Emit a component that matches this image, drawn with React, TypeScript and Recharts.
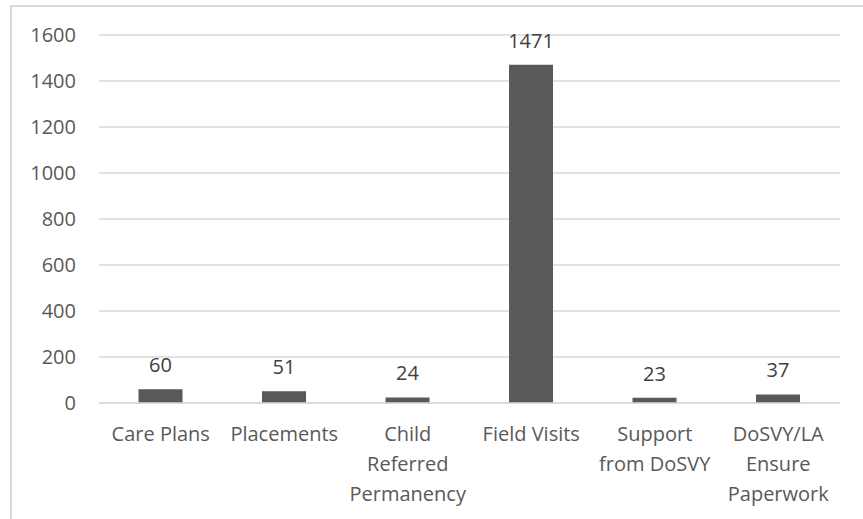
import React from "react";
import { BarChart, Bar, XAxis, YAxis, CartesianGrid, LabelList } from "recharts";

const categories = [
  "Care Plans",
  "Placements",
  "Child Referred Permanency",
  "Field Visits",
  "Support from DoSVY",
  "DoSVY/LA Ensure Paperwork",
];
// how each category label wraps under the axis
const categoryLines = [
  ["Care Plans"],
  ["Placements"],
  ["Child", "Referred", "Permanency"],
  ["Field Visits"],
  ["Support", "from DoSVY"],
  ["DoSVY/LA", "Ensure", "Paperwork"],
];
const counts = [60, 51, 24, 1471, 23, 37];
const yTicks = [0, 200, 400, 600, 800, 1000, 1200, 1400, 1600];

const data = categories.map((name, i) => ({ name, value: counts[i] }));

const FONT = "'Open Sans', sans-serif";
const TEXT = "#595959";

function CategoryTick({ x, payload, index }: { x?: number; payload?: { value: string }; index?: number }) {
  const i = index ?? categories.indexOf(payload?.value ?? "");
  const lines = categoryLines[i] ?? [];
  // first baseline sits 38px under the zero line
  return (
    <text x={x} y={441} textAnchor="middle" fill={TEXT} fontSize={20} fontFamily={FONT}>
      {lines.map((l, k) => (
        <tspan key={k} x={x} dy={k === 0 ? 0 : 30}>
          {l}
        </tspan>
      ))}
    </text>
  );
}

export default function App() {
  return (
    <div style={{ position: "relative", width: 863, height: 519, overflow: "hidden", background: "#fff" }}>
      <style>{`body{margin:0;overflow:hidden}`}</style>
      <div
        style={{
          position: "absolute",
          left: 10,
          top: 5,
          width: 1000,
          height: 1000,
          borderLeft: "2px solid #d9d9d9",
          borderTop: "2px solid #d9d9d9",
        }}
      />
      <div style={{ position: "absolute", left: 0, top: 0 }}>
        <BarChart
          width={863}
          height={519}
          data={data}
          margin={{ top: 35, right: 23, bottom: 86, left: 0 }}
          barCategoryGap="32%"
        >
          <CartesianGrid vertical={false} stroke="#d9d9d9" strokeWidth={1.5} />
          <XAxis
            dataKey="name"
            height={30}
            tick={<CategoryTick />}
            tickLine={false}
            axisLine={{ stroke: "#d9d9d9", strokeWidth: 1.5 }}
            interval={0}
          />
          <YAxis
            domain={[0, 1600]}
            ticks={yTicks}
            width={99}
            tickLine={false}
            axisLine={false}
            tickMargin={17}
            tick={{ fontSize: 20, fill: TEXT, fontFamily: FONT }}
          />
          <Bar dataKey="value" fill="#595959" isAnimationActive={false}>
            <LabelList
              dataKey="value"
              position="top"
              offset={17}
              fill="#404040"
              fontSize={20}
              fontFamily={FONT}
            />
          </Bar>
        </BarChart>
      </div>
    </div>
  );
}
